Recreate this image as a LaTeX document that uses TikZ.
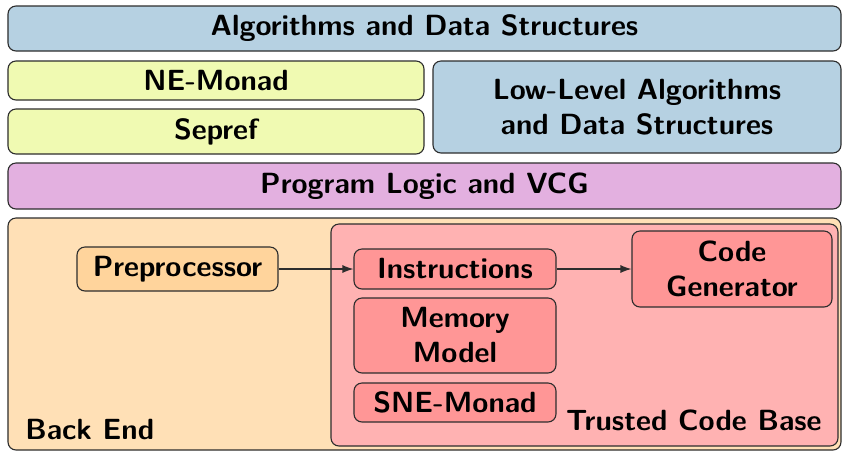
\documentclass[tikz,border=0pt]{standalone}
\usetikzlibrary{arrows.meta}
\definecolor{algblue}{RGB}{182,209,226}
\definecolor{lime}{RGB}{240,250,178}
\definecolor{logicpurple}{RGB}{227,176,224}
\definecolor{peach}{RGB}{255,224,182}
\definecolor{peachdark}{RGB}{255,212,156}
\definecolor{tcbpink}{RGB}{255,178,178}
\definecolor{tcbred}{RGB}{255,150,150}
\definecolor{edge}{RGB}{45,45,45}
\tikzset{
  layer/.style={draw=edge, line width=0.55pt, rounded corners=4pt, inner sep=0pt,
    align=center, font=\sffamily\bfseries\fontsize{14.6}{17.5}\selectfont},
  lbl/.style={inner sep=0pt, font=\sffamily\bfseries\fontsize{14.6}{17.5}\selectfont},
  flow/.style={draw=edge, line width=0.55pt, -{Latex[length=5.5pt,width=4pt]}},
}
\begin{document}
\begin{tikzpicture}[x=0.5pt,y=-0.5pt]
\useasboundingbox (0,0) rectangle (843,452);
% top layers
\node[layer, fill=algblue, minimum width=416.5pt, minimum height=22.5pt] (algo) at (424.5,28.5) {Algorithms and Data Structures};
\node[layer, fill=lime, minimum width=208pt, minimum height=19.5pt] (nemonad) at (216,80.5) {NE-Monad};
\node[layer, fill=lime, minimum width=208pt, minimum height=22.5pt] (sepref) at (216,131.5) {Sepref};
\node[layer, fill=algblue, minimum width=204pt, minimum height=46pt] (lowlevel) at (637,107) {Low-Level Algorithms\\and Data Structures};
\node[layer, fill=logicpurple, minimum width=416.5pt, minimum height=23pt] (plogic) at (424.5,186) {Program Logic and VCG};
% back end
\node[layer, fill=peach, minimum width=416.5pt, minimum height=116pt] (backend) at (424.5,334) {};
\node[lbl, anchor=base west] (backendlbl) at (25,439) {Back End};
\node[layer, fill=tcbpink, minimum width=253.5pt, minimum height=111pt] (tcb) at (584.5,335) {};
\node[lbl, anchor=base east] (tcblbl) at (822,430) {Trusted Code Base};
\node[layer, fill=peachdark, minimum width=100.5pt, minimum height=22pt] (prep) at (177.5,269) {Preprocessor};
\node[layer, fill=tcbred, minimum width=101pt, minimum height=20pt] (instr) at (455,269) {Instructions};
\node[layer, fill=tcbred, minimum width=100pt, minimum height=38pt] (codegen) at (732,269) {Code\\Generator};
\node[layer, fill=tcbred, minimum width=101pt, minimum height=37.5pt] (memory) at (455,335.5) {Memory\\Model};
\node[layer, fill=tcbred, minimum width=101pt, minimum height=19.5pt] (sne) at (455,402.5) {SNE-Monad};
% data flow
\draw[flow] (prep) -- (instr);
\draw[flow] (instr) -- (codegen);
\end{tikzpicture}
\end{document}
